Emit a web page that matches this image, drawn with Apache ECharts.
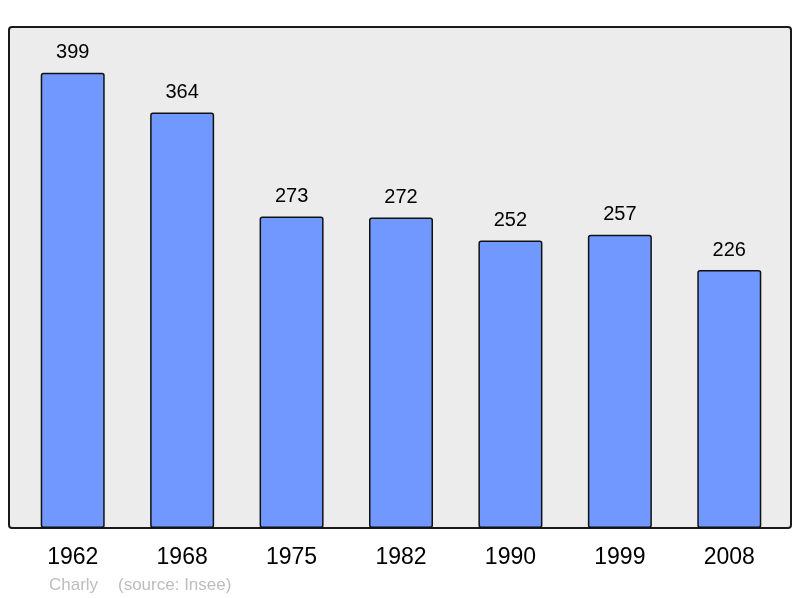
<!DOCTYPE html>
<html>
<head>
<meta charset="utf-8">
<script src="https://cdn.jsdelivr.net/npm/echarts@6/dist/echarts.min.js"></script>
<style>
  html, body { margin: 0; padding: 0; background: #fff; }
  #chart { width: 800px; height: 598px; }
</style>
</head>
<body>
<div id="chart"></div>
<script>
const years = ['1962', '1968', '1975', '1982', '1990', '1999', '2008']
const population = [399, 364, 273, 272, 252, 257, 226]
const footerName = 'Charly'
const footerSource = '(source: Insee)'

const chart = echarts.init(document.getElementById('chart'))

chart.setOption({
  animation: false,
  textStyle: { fontFamily: 'Liberation Sans, Arial, sans-serif' },
  graphic: [
    {
      type: 'rect',
      z: -10,
      shape: { x: 9, y: 27, width: 782, height: 501, r: 3 },
      style: { fill: '#ececec', stroke: '#1a1a1a', lineWidth: 2 }
    },
    {
      type: 'text',
      left: 49,
      top: 577,
      style: { text: footerName, fill: '#bdbdbd', font: '17px Liberation Sans, Arial, sans-serif' }
    },
    {
      type: 'text',
      left: 118,
      top: 577,
      style: { text: footerSource, fill: '#bdbdbd', font: '17px Liberation Sans, Arial, sans-serif' }
    }
  ],
  grid: { left: 18, right: 16, top: 27, bottom: 70 },
  xAxis: {
    type: 'category',
    data: years,
    axisLine: { show: false },
    axisTick: { show: false },
    axisLabel: { color: '#000', fontSize: 23, margin: 18 }
  },
  yAxis: {
    type: 'value',
    min: 0,
    max: 439,
    show: false,
    splitLine: { show: false }
  },
  series: [
    {
      type: 'bar',
      data: population,
      barWidth: 64,
      itemStyle: {
        color: '#7098ff',
        borderColor: '#111',
        borderWidth: 1.5,
        borderRadius: 2
      },
      label: {
        show: true,
        position: 'top',
        distance: 10,
        color: '#000',
        fontSize: 20
      }
    }
  ]
})
</script>
</body>
</html>
